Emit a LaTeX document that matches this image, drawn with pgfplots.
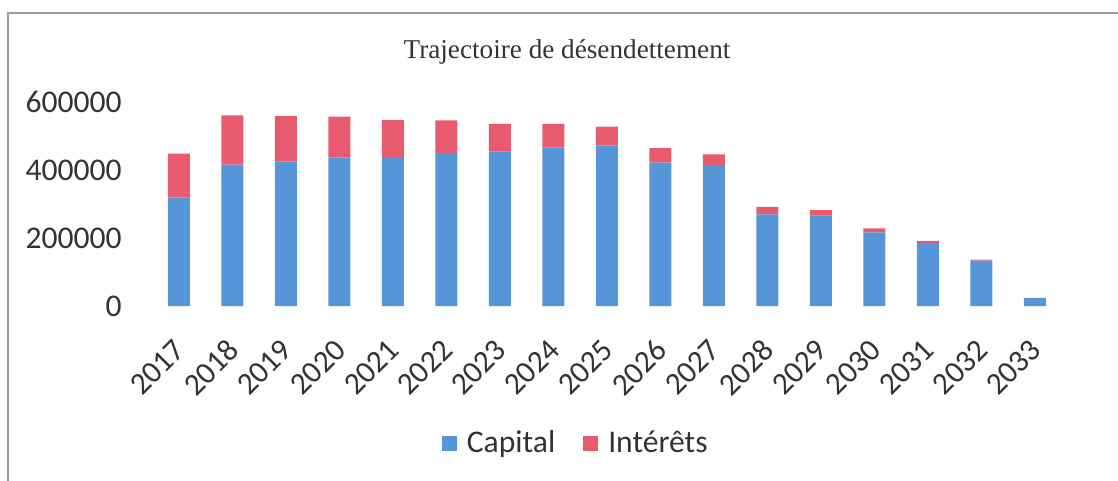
\documentclass[border=0pt]{standalone}
\usepackage{pgfplots}
\pgfplotsset{compat=1.18}
\usepackage{fontspec}
\setmainfont{Carlito}
\newfontfamily\titlefont{Liberation Serif}
\definecolor{capblue}{RGB}{86,150,216}
\definecolor{intred}{RGB}{232,90,110}
\begin{document}
\begin{tikzpicture}
\useasboundingbox (0,0) rectangle (559pt,240.5pt);
\draw[gray!75, line width=0.9pt] (4pt,0pt) -- (4pt,234pt) -- (559pt,234pt);
\node[font=\titlefont\fontsize{13.6}{16}\selectfont, text=black!80] at (283.5pt,214.5pt) {Trajectoire de désendettement};
\begin{axis}[
  at={(76pt,87.5pt)}, anchor=south west,
  scale only axis, width=454.75pt, height=102pt,
  ybar stacked, bar width=11pt,
  xmin=-0.5, xmax=16.5, ymin=0, ymax=600000,
  axis line style={draw=none},
  xtick={0,...,16},
  xticklabels={2017,2018,2019,2020,2021,2022,2023,2024,2025,2026,2027,2028,2029,2030,2031,2032,2033},
  ytick={0,200000,400000,600000},
  scaled y ticks=false,
  yticklabel style={/pgf/number format/fixed, /pgf/number format/1000 sep={}, /pgf/number format/assume math mode=true, anchor=east, inner sep=0pt, xshift=-15pt, font=\fontsize{15.8}{18}\selectfont, text=black!80},
  xticklabel style={rotate=45, anchor=east, inner sep=0pt, xshift=-13.2pt, yshift=-14.25pt, font=\fontsize{15.6}{18}\selectfont, text=black!80},
  major tick length=0pt, tick style={draw=none},
  legend columns=2,
  legend style={at={(0.467,-0.672)}, anchor=center, draw=none, fill=none, font=\fontsize{15.8}{18}\selectfont, text=black!80, /tikz/every odd column/.append style={column sep=3pt}, /tikz/every even column/.append style={column sep=12pt}},
  legend image code/.code={\fill[#1] (0pt,-3.75pt) rectangle (7.5pt,3.75pt);},
]
\addplot[fill=capblue, draw=none] coordinates {
(0,318500) (1,415600) (2,425500) (3,436200) (4,438200) (5,450000) (6,455000) (7,465600) (8,472600) (9,421500) (10,414700) (11,269600) (12,265600) (13,216700) (14,185300) (15,133300) (16,23500)};
\addplot[fill=intred, draw=none] coordinates {
(0,129500) (1,145400) (2,133300) (3,120600) (4,108800) (5,96000) (6,81000) (7,69700) (8,54800) (9,43200) (10,31400) (11,21600) (12,16700) (13,11800) (14,5900) (15,2900) (16,500)};
\legend{Capital,Intérêts}
\end{axis}
\end{tikzpicture}
\end{document}
